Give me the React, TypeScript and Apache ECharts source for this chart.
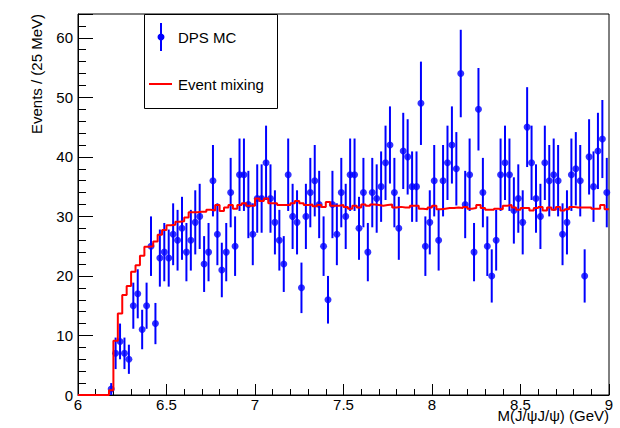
import React, { useEffect, useRef } from "react";
import * as echarts from "echarts";

// Histogram binning: 25 MeV bins starting at 6 GeV
const HIST_MIN = 6;
const HIST_MAX = 9;
const BIN_WIDTH = 0.025;
const FIRST_FILLED_BIN = 7; // first non-empty bin index (6.175-6.2 GeV)

// DPS MC counts per bin, from bin 7 (6.175 GeV) to bin 119 (8.975 GeV)
const dpsMC = [
  1, 7, 9, 7, 6, 15, 17, 11, 15, 25,
  12, 23, 24, 23, 27, 26, 28, 24, 26, 29,
  30, 22, 24, 36, 27, 21, 24, 34, 25, 37,
  37, 32, 27, 33, 33, 39, 33, 29, 26, 22,
  37, 30, 29, 18, 30, 34, 36, 32, 25, 16,
  32, 27, 34, 30, 37, 37, 28, 34, 24, 34,
  33, 35, 39, 42, 34, 28, 41, 40, 35, 35,
  49, 25, 29, 36, 26, 36, 39, 42, 38, 54,
  32, 37, 24, 48, 34, 25, 20, 26, 37, 39,
  37, 31, 33, 29, 45, 39, 33, 30, 39, 36,
  37, 36, 27, 29, 37, 38, 36, 20, 40, 35,
  41, 43, 34,
];

// Event mixing (normalised) per bin, same bins
const eventMixing = [
  0.8, 9.1, 13.7, 16.8, 18.3, 20.7, 21.8, 23.4, 24.9, 25.0,
  25.8, 26.9, 27.7, 28.5, 28.6, 29.1, 29.2, 29.8, 30.7, 30.7,
  30.8, 30.8, 31.1, 31.0, 31.9, 30.9, 31.5, 31.9, 31.3, 31.9,
  32.2, 31.8, 31.8, 33.0, 32.6, 33.0, 32.2, 32.2, 31.9, 31.9,
  31.9, 32.2, 32.6, 32.2, 31.9, 32.0, 31.7, 31.9, 31.6, 32.4,
  31.8, 31.8, 31.9, 31.6, 31.3, 31.8, 31.5, 32.0, 31.8, 32.0,
  31.9, 31.8, 31.9, 32.0, 31.5, 31.6, 31.5, 31.5, 31.8, 31.8,
  31.3, 31.2, 31.5, 31.8, 31.2, 31.3, 31.4, 31.4, 31.5, 31.4,
  31.6, 31.3, 31.4, 31.9, 31.4, 31.1, 31.1, 31.3, 31.2, 31.8,
  31.9, 31.5, 31.1, 31.4, 31.4, 31.0, 31.4, 31.6, 31.0, 31.5,
  31.1, 31.6, 31.0, 31.2, 31.6, 31.5, 31.5, 31.5, 31.5, 31.3,
  31.3, 31.9, 31.2,
];

const Y_MAX = 64;
const legendLabels = ["DPS MC", "Event mixing"];
const xAxisTitle = "M(J/\u03c8J/\u03c8) (GeV)";
const yAxisTitle = "Events / (25 MeV)";

const FONT = "'Liberation Sans', Arial, Helvetica, sans-serif";
const BLUE = "#0000ff";
const RED = "#ff0000";

export default function App() {
  const ref = useRef<HTMLDivElement>(null);

  useEffect(() => {
    document.body.style.margin = "0";
    const chart = echarts.init(ref.current!, null, { renderer: "svg" });

    const pointData = dpsMC.map((n, k) => [
      HIST_MIN + (FIRST_FILLED_BIN + k + 0.5) * BIN_WIDTH,
      n,
      Math.sqrt(n),
    ]);

    const mixLine: number[][] = [[HIST_MIN, 0]];
    eventMixing.forEach((v, k) => {
      mixLine.push([HIST_MIN + (FIRST_FILLED_BIN + k) * BIN_WIDTH, v]);
    });
    mixLine.push([HIST_MAX, eventMixing[eventMixing.length - 1]]);

    const option: any = {
      animation: false,
      backgroundColor: "#ffffff",
      textStyle: { fontFamily: FONT },
      grid: {
        left: 78,
        top: 14,
        right: 11,
        bottom: 33,
        show: true,
        borderColor: "#000",
        borderWidth: 1,
        backgroundColor: "#fff",
      },
      xAxis: {
        type: "value",
        min: HIST_MIN,
        max: HIST_MAX,
        interval: 0.5,
        axisLine: { show: true, lineStyle: { color: "#000", width: 1 } },
        axisTick: { show: true, inside: true, length: 11, lineStyle: { color: "#000" } },
        minorTick: { show: true, splitNumber: 5, length: 6, lineStyle: { color: "#000" } },
        splitLine: { show: false },
        axisLabel: {
          color: "#000",
          fontSize: 15,
          fontFamily: FONT,
          margin: 2,
        },
      },
      yAxis: {
        type: "value",
        min: 0,
        max: Y_MAX,
        interval: 10,
        axisLine: { show: true, lineStyle: { color: "#000", width: 1 } },
        axisTick: { show: true, inside: true, length: 15, lineStyle: { color: "#000" } },
        minorTick: { show: true, splitNumber: 5, length: 8, lineStyle: { color: "#000" } },
        splitLine: { show: false },
        axisLabel: {
          color: "#000",
          fontSize: 15,
          fontFamily: FONT,
          margin: 5,
          showMaxLabel: false,
        },
      },
      series: [
        {
          type: "custom",
          name: "DPS MC errors",
          data: pointData,
          encode: { x: 0, y: 1 },
          clip: true,
          z: 2,
          renderItem: (params: any, api: any) => {
            const x = api.value(0);
            const y = api.value(1);
            const e = api.value(2);
            const p1 = api.coord([x, Math.max(0, y - e)]);
            const p2 = api.coord([x, y + e]);
            return {
              type: "line",
              shape: { x1: p1[0], y1: p1[1], x2: p2[0], y2: p2[1] },
              style: { stroke: BLUE, lineWidth: 2 },
            };
          },
        },
        {
          type: "scatter",
          name: legendLabels[0],
          data: pointData.map((d) => [d[0], d[1]]),
          symbol: "circle",
          symbolSize: 7,
          itemStyle: { color: BLUE },
          z: 3,
        },
        {
          type: "line",
          name: legendLabels[1],
          data: mixLine,
          step: "end",
          showSymbol: false,
          symbol: "none",
          lineStyle: { color: RED, width: 2 },
          z: 4,
        },
      ],
      graphic: [
        {
          type: "text",
          x: 609,
          y: 415,
          style: {
            text: xAxisTitle,
            fontSize: 15,
            fontFamily: FONT,
            fill: "#000",
            align: "right",
            verticalAlign: "middle",
          },
        },
        {
          type: "text",
          x: 36,
          y: 14,
          rotation: Math.PI / 2,
          style: {
            text: yAxisTitle,
            fontSize: 15,
            fontFamily: FONT,
            fill: "#000",
            align: "right",
            verticalAlign: "middle",
          },
        },
        {
          type: "group",
          z: 100,
          children: [
            {
              type: "rect",
              shape: { x: 144.5, y: 14.5, width: 133, height: 94 },
              style: { fill: "#fff", stroke: "#000", lineWidth: 1 },
            },
            {
              type: "line",
              shape: { x1: 161, y1: 23, x2: 161, y2: 51 },
              style: { stroke: BLUE, lineWidth: 2 },
            },
            {
              type: "circle",
              shape: { cx: 161, cy: 37, r: 3.5 },
              style: { fill: BLUE },
            },
            {
              type: "text",
              x: 178,
              y: 37,
              style: {
                text: legendLabels[0],
                fontSize: 15,
                fontFamily: FONT,
                fill: "#000",
                align: "left",
                verticalAlign: "middle",
              },
            },
            {
              type: "line",
              shape: { x1: 149, y1: 84, x2: 172, y2: 84 },
              style: { stroke: RED, lineWidth: 2 },
            },
            {
              type: "text",
              x: 178,
              y: 84,
              style: {
                text: legendLabels[1],
                fontSize: 15,
                fontFamily: FONT,
                fill: "#000",
                align: "left",
                verticalAlign: "middle",
              },
            },
          ],
        },
      ],
    };

    chart.setOption(option);
    return () => chart.dispose();
  }, []);

  return <div ref={ref} style={{ width: 620, height: 428 }} />;
}
